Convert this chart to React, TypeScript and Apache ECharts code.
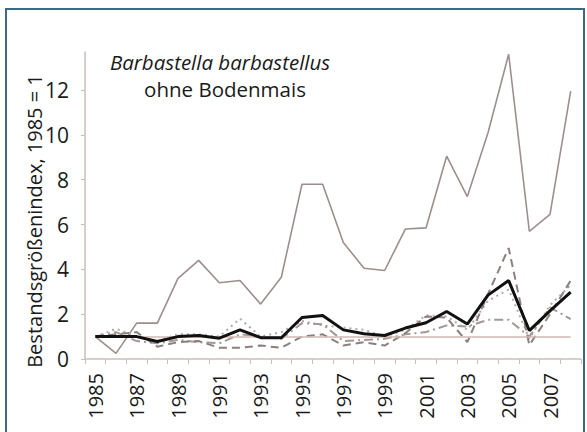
import React, { useEffect, useRef } from "react";
import * as echarts from "echarts";

const years = ["1985","1986","1987","1988","1989","1990","1991","1992","1993","1994","1995","1996","1997","1998","1999","2000","2001","2002","2003","2004","2005","2006","2007","2008"];

const topLine = [1.0, 0.25, 1.6, 1.6, 3.6, 4.4, 3.4, 3.5, 2.45, 3.65, 7.8, 7.8, 5.2, 4.05, 3.95, 5.8, 5.85, 9.05, 7.25, 10.1, 13.6, 5.7, 6.45, 11.95];
const meanLine = [1.0, 1.0, 1.0, 0.78, 1.0, 1.05, 0.93, 1.3, 0.95, 0.95, 1.85, 1.94, 1.3, 1.13, 1.05, 1.38, 1.62, 2.12, 1.56, 2.85, 3.5, 1.27, 2.15, 2.98];
const dashLine = [1.0, 1.1, 1.2, 0.55, 0.75, 0.8, 0.5, 0.5, 0.6, 0.5, 1.0, 1.1, 0.6, 0.75, 0.6, 1.15, 1.9, 1.85, 0.75, 2.9, 4.95, 0.62, 2.0, 3.5];
const dashDotLine = [1.0, 1.2, 0.8, 0.7, 0.85, 0.75, 0.7, 1.1, 1.0, 0.9, 1.6, 1.55, 0.8, 0.85, 0.9, 1.1, 1.2, 1.5, 1.45, 1.75, 1.75, 1.0, 2.3, 1.78];
const dotLine = [1.0, 1.35, 1.0, 0.8, 1.1, 1.1, 1.0, 1.8, 1.0, 1.2, 1.7, 1.5, 1.4, 1.3, 1.0, 1.3, 1.95, 1.9, 1.3, 2.6, 3.1, 0.9, 2.4, 3.3];
const refValue = 1;

const yTicks = [0, 2, 4, 6, 8, 10, 12];
const titleLine1 = "Barbastella barbastellus";
const titleLine2 = "ohne Bodenmais";
const yName = "Bestandsgrößenindex, 1985 = 1";

const FONT = "'Open Sans', 'Noto Sans', sans-serif";

export default function App() {
  const ref = useRef<HTMLDivElement>(null);
  useEffect(() => {
    if (!ref.current) return;
    const chart = echarts.init(ref.current, undefined, { renderer: "svg" });
    chart.setOption({
      animation: false,
      backgroundColor: "#ffffff",
      grid: { left: 85, right: 6, top: 52, bottom: 73 },
      xAxis: {
        type: "category",
        data: years,
        boundaryGap: true,
        axisLine: { lineStyle: { color: "#cbbfbd", width: 1.5 } },
        axisTick: { show: true, interval: 0, length: 5, lineStyle: { color: "#cbbfbd" } },
        axisLabel: {
          interval: 1,
          rotate: 90,
          margin: 14,
          color: "#1a1a1a",
          fontSize: 20,
          fontFamily: FONT,
        },
      },
      yAxis: {
        type: "value",
        min: 0,
        max: 13.7,
        interval: 2,
        axisLine: { show: true, lineStyle: { color: "#cbbfbd", width: 1.5 } },
        axisTick: { show: true, length: 4, lineStyle: { color: "#cbbfbd" } },
        splitLine: { show: false },
        axisLabel: {
          showMaxLabel: false,
          margin: 16,
          color: "#1a1a1a",
          fontSize: 21,
          fontFamily: FONT,
          formatter: (v: number) => (yTicks.includes(v) ? String(v) : ""),
        },
      },
      graphic: [
        {
          type: "rect",
          shape: { x: 6, y: 9, width: 578, height: 470 },
          style: { fill: "none", stroke: "#3d6985", lineWidth: 2 },
          silent: true,
        },
        {
          type: "text",
          x: 220,
          y: 62,
          style: {
            text: titleLine1,
            font: `italic 20.5px ${FONT}`,
            fill: "#1a1a1a",
            textAlign: "center",
            textVerticalAlign: "middle",
          },
        },
        {
          type: "text",
          x: 225,
          y: 89,
          style: {
            text: titleLine2,
            font: `20.5px ${FONT}`,
            fill: "#1a1a1a",
            textAlign: "center",
            textVerticalAlign: "middle",
          },
        },
        {
          type: "text",
          x: 34,
          y: 221,
          rotation: Math.PI / 2,
          style: {
            text: yName,
            font: `20px ${FONT}`,
            fill: "#1a1a1a",
            textAlign: "center",
            textVerticalAlign: "middle",
          },
        },
      ],
      series: [
        {
          type: "line",
          data: topLine,
          symbol: "none",
          z: 2,
          lineStyle: { color: "#9c8f8d", width: 1.6 },
          markLine: {
            silent: true,
            symbol: "none",
            label: { show: false },
            lineStyle: { color: "#cfb9b3", width: 1.5, type: "solid" },
            data: [[{ coord: [years[0], refValue] }, { coord: [years[years.length - 1], refValue] }]],
          },
        },
        {
          type: "line",
          data: dotLine,
          symbol: "none",
          z: 3,
          lineStyle: { color: "#b3a8a6", width: 2, type: [2, 4] },
        },
        {
          type: "line",
          data: dashDotLine,
          symbol: "none",
          z: 3,
          lineStyle: { color: "#a39895", width: 2, type: [9, 4, 2, 4] },
        },
        {
          type: "line",
          data: dashLine,
          symbol: "none",
          z: 4,
          lineStyle: { color: "#8c807e", width: 2, type: [8, 5] },
        },
        {
          type: "line",
          data: meanLine,
          symbol: "none",
          z: 5,
          lineStyle: { color: "#111111", width: 3 },
        },
      ],
    });
    return () => chart.dispose();
  }, []);
  return (
    <div
      ref={ref}
      style={{ position: "fixed", left: 0, top: 0, width: 587, height: 432, background: "#fff" }}
    />
  );
}
